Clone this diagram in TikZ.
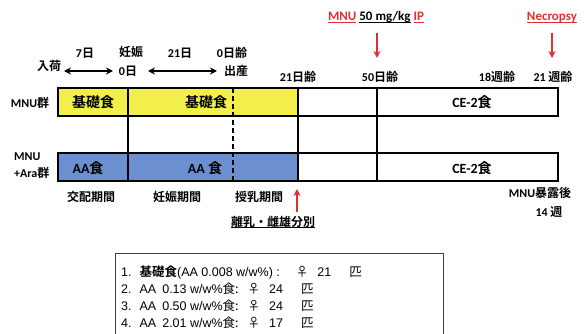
\documentclass[tikz,border=0pt]{standalone}
\usepackage{fontspec}
\setmainfont{Carlito}
\newfontfamily\jp{Noto Sans CJK JP}[BoldFont={Noto Sans CJK JP Bold}]
\newfontfamily\lsans{Liberation Sans}
\usetikzlibrary{arrows.meta}
\definecolor{yel}{RGB}{242,238,74}
\definecolor{blu}{RGB}{108,143,208}
\definecolor{rd}{RGB}{226,46,46}
\tikzset{
  box/.style={draw=black,line width=1.6pt},
  lbl/.style={inner sep=0pt,font=\bfseries\fontsize{12}{14}\selectfont},
  inlbl/.style={inner sep=0pt,font=\bfseries\fontsize{14}{16}\selectfont},
  dbl/.style={{Stealth[length=7pt,width=7pt]}-{Stealth[length=7pt,width=7pt]},line width=1.6pt},
  redarr/.style={-{Stealth[length=7pt,width=7pt]},line width=1.6pt,draw=rd},
  lst/.style={inner sep=0pt,anchor=west,font=\lsans\fontsize{12.5}{14}\selectfont},
}
\begin{document}
\begin{tikzpicture}[x=1pt,y=-1pt]
\useasboundingbox (0,0) rectangle (584,334);
% fills
\fill[yel] (58,88) rectangle (298,116);
\fill[blu] (58,153) rectangle (298,181);
% row boxes
\draw[box] (58,88) rectangle (558,116);
\draw[box] (58,153) rectangle (558,181);
\draw[box] (128,88) -- (128,181);
\draw[box] (298,88) -- (298,181);
\draw[box] (377,88) -- (377,181);
\draw[box,dash pattern=on 5pt off 3pt] (233,88) -- (233,181);
% top labels
\node[lbl] (nyuka) at (49,66) {\jp 入荷};
\node[lbl] (d7) at (85,53) {7\jp 日};
\node[lbl] (ninshin) at (131,52) {\jp 妊娠};
\node[lbl] (d0) at (128,71) {0\jp 日};
\node[lbl] (d21) at (180,53) {21\jp 日};
\node[lbl] (birth0) at (232,53) {0\jp 日齢};
\node[lbl] (shussan) at (236,71) {\jp 出産};
\node[lbl] (a21) at (298,77) {21\jp 日齢};
\node[lbl] (a50) at (380,77) {50\jp 日齢};
\node[lbl] (w18) at (497,77) {18\jp 週齢};
\node[lbl] (w21) at (553,77) {21 \jp 週齢};
\coordinate (p1) at (64,71); \coordinate (p2) at (113,71);
\coordinate (p3) at (148,71); \coordinate (p4) at (217,71);
\draw[dbl] (p1) -- (p2);
\draw[dbl] (p3) -- (p4);
% red annotations
\node[lbl,font=\bfseries\fontsize{13}{15}\selectfont] (mnuip) at (376,22) {\textcolor{rd}{\underline{\smash{MNU}}} \underline{\smash{50 mg/kg}} \textcolor{rd}{\underline{\smash{IP}}}};
\node[lbl,font=\bfseries\fontsize{13}{15}\selectfont,text=rd] (necro) at (552,22) {\underline{\smash{Necropsy}}};
\coordinate (r1a) at (377,33); \coordinate (r1b) at (377,58);
\coordinate (r2a) at (552,33); \coordinate (r2b) at (552,58);
\draw[redarr] (r1a) -- (r1b);
\draw[redarr] (r2a) -- (r2b);
% side labels
\node[lbl] (g1) at (30,103) {MNU\jp 群};
\node[lbl,anchor=west] (g2a) at (14,157) {MNU};
\node[lbl,anchor=west] (g2b) at (14,173) {+Ara\jp 群};
% in-box labels
\node[inlbl] (k1) at (93,102) {\jp 基礎食};
\node[inlbl] (k2) at (206,102) {\jp 基礎食};
\node[inlbl] (ce1) at (472,102) {CE-2\jp 食};
\node[inlbl] (aa1) at (88,168) {AA\jp 食};
\node[inlbl] (aa2) at (205,168) {AA \jp 食};
\node[inlbl] (ce2) at (472,168) {CE-2\jp 食};
% bottom labels
\node[lbl] (kouhai) at (91,197) {\jp 交配期間};
\node[lbl] (ninkikan) at (177,197) {\jp 妊娠期間};
\node[lbl] (junyu) at (259,197) {\jp 授乳期間};
\coordinate (u1) at (297,212); \coordinate (u2) at (297,189);
\draw[redarr] (u1) -- (u2);
\node[lbl] (rinyu) at (273,227) {\jp\underline{\smash{離乳・雌雄分別}}};
\node[lbl] (bakuro) at (540,193) {MNU\jp 暴露後};
\node[lbl] (w14) at (549,212) {14 \jp 週};
% list box
\draw[line width=1pt,draw=black!75] (115,253) rectangle (443,340);
\node[lst] (l1) at (121,272) {1.\hspace{8pt}{\jp\bfseries 基礎食}(AA 0.008 w/w\%) :\hspace{16pt}{\jp ♀}\hspace{9pt}21\hspace{18pt}{\jp 匹}};
\node[lst] (l2) at (121,289) {2.\hspace{8pt}AA\hspace{6pt}0.13 w/w\%{\jp 食:}\hspace{9pt}{\jp ♀}\hspace{9pt}24\hspace{18pt}{\jp 匹}};
\node[lst] (l3) at (121,306) {3.\hspace{8pt}AA\hspace{6pt}0.50 w/w\%{\jp 食:}\hspace{9pt}{\jp ♀}\hspace{9pt}24\hspace{18pt}{\jp 匹}};
\node[lst] (l4) at (121,323) {4.\hspace{8pt}AA\hspace{6pt}2.01 w/w\%{\jp 食:}\hspace{9pt}{\jp ♀}\hspace{9pt}17\hspace{18pt}{\jp 匹}};
\end{tikzpicture}
\end{document}
